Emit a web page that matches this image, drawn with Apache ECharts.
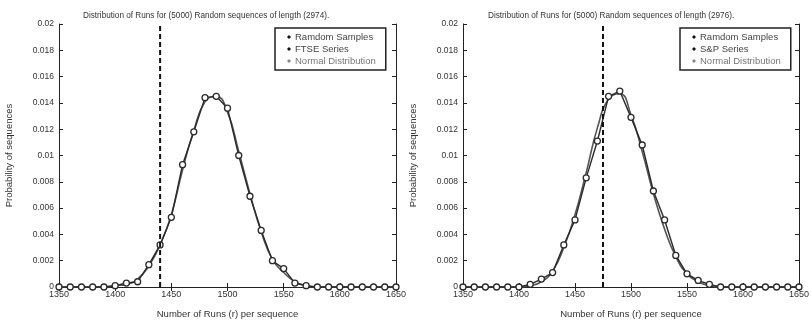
<!DOCTYPE html>
<html>
<head>
<meta charset="utf-8">
<title>Distribution of Runs</title>
<script src="https://cdn.jsdelivr.net/npm/echarts@6/dist/echarts.min.js"></script>
<style>
  html, body { margin: 0; padding: 0; background: #fff; }
  #main { width: 812px; height: 324px; }
</style>
</head>
<body>
<div id="main"></div>
<script type="text/javascript">
// x positions (number of runs)
var runs = [1350, 1360, 1370, 1380, 1390, 1400, 1410, 1420, 1430, 1440, 1450,
            1460, 1470, 1480, 1490, 1500, 1510, 1520, 1530, 1540, 1550,
            1560, 1570, 1580, 1590, 1600, 1610, 1620, 1630, 1640, 1650];

// left panel - FTSE (length 2974)
var ftseSamples = [0, 0, 0, 0, 0, 0.0001, 0.0003, 0.0004, 0.0017, 0.0032, 0.0053,
                   0.0093, 0.0118, 0.0144, 0.0145, 0.0136, 0.0100, 0.0069, 0.0043, 0.0020, 0.0014,
                   0.0003, 0.0001, 0, 0, 0, 0, 0, 0, 0, 0];
var ftseNormal  = [0, 0, 0, 0, 0, 0.0001, 0.0002, 0.0006, 0.0016, 0.0032, 0.0055,
                   0.0089, 0.0119, 0.0141, 0.0145, 0.0133, 0.0103, 0.0071, 0.0042, 0.0021, 0.0011,
                   0.0004, 0.0001, 0, 0, 0, 0, 0, 0, 0, 0];
var ftseRuns = 1440;

// right panel - S&P (length 2976)
var spSamples = [0, 0, 0, 0, 0, 0, 0.0002, 0.0006, 0.0011, 0.0032, 0.0051,
                 0.0083, 0.0111, 0.0145, 0.0149, 0.0129, 0.0108, 0.0073, 0.0051, 0.0024, 0.0010,
                 0.0005, 0.0002, 0, 0, 0, 0, 0, 0, 0, 0];
var spNormal  = [0, 0, 0, 0, 0, 0, 0.0001, 0.0004, 0.0012, 0.0030, 0.0055,
                 0.0087, 0.0121, 0.0143, 0.0147, 0.0131, 0.0103, 0.0071, 0.0044, 0.0023, 0.0010,
                 0.0004, 0.0001, 0, 0, 0, 0, 0, 0, 0, 0];
var spRuns = 1475;

var titles = ['Distribution of Runs for (5000) Random sequences of length (2974).',
              'Distribution of Runs for (5000) Random sequences of length (2976).'];
var seriesNames = ['FTSE Series', 'S&P Series'];

function pairs(ys) {
    return runs.map(function (x, i) { return [x, ys[i]]; });
}

var font = 'Liberation Sans';
var ink = '#222';

var myChart = echarts.init(document.getElementById('main'));

var grids = [
    { left: 59, right: 416, top: 24, bottom: 35 },
    { left: 463, right: 12, top: 24, bottom: 35 }
];

var xAxes = [], yAxes = [];
grids.forEach(function (g, k) {
    // bottom / top
    xAxes.push({
        type: 'value', gridIndex: k, min: 1350, max: 1650, interval: 50,
        name: 'Number of Runs (r) per sequence', nameLocation: 'middle', nameGap: 22,
        nameTextStyle: { fontFamily: font, fontSize: 9.5, color: '#333' },
        axisLine: { lineStyle: { color: ink, width: 1 } },
        axisTick: { inside: true, length: 4, lineStyle: { color: ink } },
        axisLabel: {
            fontFamily: font, fontSize: 9, color: '#333', margin: 3,
            formatter: function (v) { return String(v); }
        },
        splitLine: { show: false }
    });
    xAxes.push({
        type: 'value', gridIndex: k, position: 'top', min: 1350, max: 1650, interval: 50,
        axisLine: { lineStyle: { color: ink, width: 1 } },
        axisTick: { inside: true, length: 4, lineStyle: { color: ink } },
        axisLabel: { show: false }, splitLine: { show: false }
    });
    // left / right
    yAxes.push({
        type: 'value', gridIndex: k, min: 0, max: 0.02, interval: 0.002,
        name: 'Probability of sequences', nameLocation: 'middle', nameGap: 45,
        nameTextStyle: { fontFamily: font, fontSize: 9.5, color: '#333' },
        axisLine: { show: true, lineStyle: { color: ink, width: 1 } },
        axisTick: { show: true, inside: true, length: 4, lineStyle: { color: ink } },
        axisLabel: {
            fontFamily: font, fontSize: 8.5, color: '#333', margin: 5,
            formatter: function (v) { return String(+v.toFixed(3)); }
        },
        splitLine: { show: false }
    });
    yAxes.push({
        type: 'value', gridIndex: k, position: 'right', min: 0, max: 0.02, interval: 0.002,
        axisLine: { show: true, lineStyle: { color: ink, width: 1 } },
        axisTick: { show: true, inside: true, length: 4, lineStyle: { color: ink } },
        axisLabel: { show: false }, splitLine: { show: false }
    });
});

var samples = [ftseSamples, spSamples];
var normals = [ftseNormal, spNormal];
var marks = [ftseRuns, spRuns];

var series = [];
[0, 1].forEach(function (k) {
    series.push({
        name: 'Normal Distribution', type: 'line', smooth: true,
        xAxisIndex: 2 * k, yAxisIndex: 2 * k,
        showSymbol: false, symbol: 'none',
        lineStyle: { color: '#555', width: 1.6 },
        itemStyle: { color: '#777' },
        data: pairs(normals[k]), z: 2
    });
    series.push({
        name: 'Ramdom Samples', type: 'line',
        xAxisIndex: 2 * k, yAxisIndex: 2 * k,
        symbol: 'circle', symbolSize: 6,
        lineStyle: { color: '#2a2a2a', width: 1.4 },
        itemStyle: { color: '#fff', borderColor: '#2a2a2a', borderWidth: 1.3 },
        data: pairs(samples[k]), z: 3
    });
    series.push({
        name: seriesNames[k], type: 'line',
        xAxisIndex: 2 * k, yAxisIndex: 2 * k,
        symbol: 'none',
        lineStyle: { color: '#111', width: 2, type: [5, 3] },
        itemStyle: { color: '#111' },
        data: [[marks[k], 0], [marks[k], 0.02]], z: 4
    });
});

function legendFor(k, left) {
    return {
        orient: 'vertical', left: left, top: 28,
        itemWidth: 4, itemHeight: 4, itemGap: 2,
        padding: [4, 10, 4, 12],
        borderColor: ink, borderWidth: 1.5, backgroundColor: '#fff',
        textStyle: { fontFamily: font, fontSize: 9.5, color: '#444', padding: [0, 0, 0, -1] },
        data: [
            { name: 'Ramdom Samples', icon: 'diamond', itemStyle: { color: '#111', borderWidth: 0 } },
            { name: seriesNames[k], icon: 'diamond', itemStyle: { color: '#111', borderWidth: 0 } },
            { name: 'Normal Distribution', icon: 'diamond', itemStyle: { color: '#888', borderWidth: 0 },
              textStyle: { color: '#777' } }
        ],
        selectedMode: false
    };
}

var option = {
    backgroundColor: '#fff',
    animation: false,
    title: [
        { text: titles[0], left: 78, top: 7, textStyle: { fontFamily: font, fontSize: 8.2, fontWeight: 'normal', color: '#333' } },
        { text: titles[1], left: 483, top: 7, textStyle: { fontFamily: font, fontSize: 8.2, fontWeight: 'normal', color: '#333' } }
    ],
    legend: [legendFor(0, 275), legendFor(1, 680)],
    grid: grids,
    xAxis: xAxes,
    yAxis: yAxes,
    series: series
};

myChart.setOption(option);
</script>
</body>
</html>
